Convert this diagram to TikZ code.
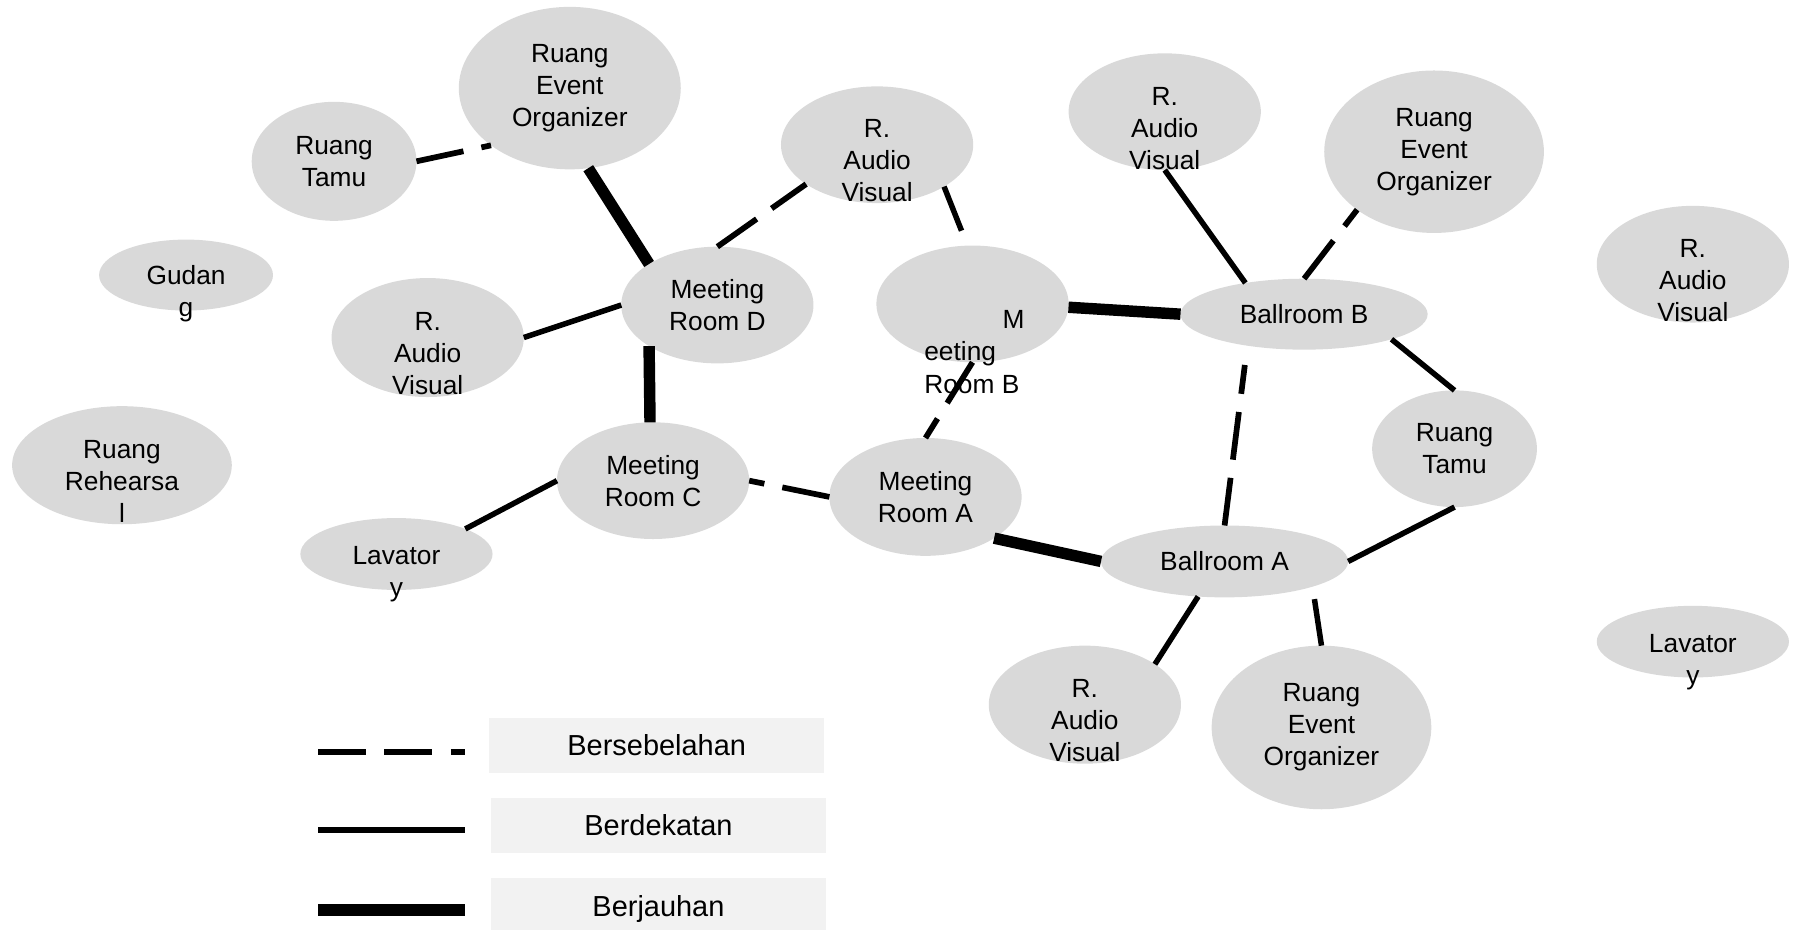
\documentclass[tikz,border=0pt]{standalone}
\usepackage{fontspec}
\setmainfont{Liberation Sans}
\usetikzlibrary{shapes.geometric,positioning}

\definecolor{roomgray}{RGB}{217,217,217}
\definecolor{keygray}{RGB}{242,242,242}

\tikzset{
  room/.style 2 args={ellipse, fill=roomgray, inner sep=0pt, outer sep=0pt,
    minimum width={2*#1pt}, minimum height={2*#2pt}},
  txt/.style={font=\fontsize{23}{28}\selectfont, align=center, inner sep=0pt},
  keybox/.style={fill=keygray, inner sep=0pt, minimum width=293pt, minimum height=48pt,
    text height=18.3pt, text depth=0pt, font=\fontsize{25.3}{30}\selectfont},
  adjline/.style={line width=5pt, dash pattern=on 42pt off 16pt},
  nearline/.style={line width=4.8pt},
  farline/.style={line width=10pt}
}

\begin{document}
\begin{tikzpicture}[x=1pt,y=-1pt]
\useasboundingbox (0,0) rectangle (1568,812);

% ruang-ruang
\node[room={97}{71}, label={[txt]center:{Ruang\\Event\\Organizer}}] (eo1) at (498,77) {};
\node[room={72}{52}, label={[txt]center:{Ruang\\Tamu}}] (t1) at (292,141) {};
\node[room={84}{51}, label={[txt,yshift=-14pt]center:{R.\\Audio\\Visual}}] (av1) at (766.6,126.5) {};
\node[room={76}{31}, label={[txt,yshift=-16pt]center:{Gudan\\g}}] (gud) at (162.6,240.4) {};
\node[room={84}{52}, label={[txt,yshift=-14pt]center:{R.\\Audio\\Visual}}] (av2) at (373.8,295) {};
\node[room={84}{51}, label={[txt]center:{Meeting\\Room D}}] (mrd) at (627,266.6) {};
\node[room={84}{51}] (mrb) at (850,265.6) {};
\node[txt, align=left, anchor=west] (mrbtext) at (807.7,307.7) {\hspace*{68.4pt}M\\eeting\\Room B};
\node[room={84}{51}, label={[txt]center:{Meeting\\Room C}}] (mrc) at (570.8,420.1) {};
\node[room={84}{51.5}, label={[txt]center:{Meeting\\Room A}}] (mra) at (808.9,434.3) {};
\node[room={84}{31.4}, label={[txt,yshift=-18pt]center:{Lavator\\y}}] (lav1) at (346.5,484.2) {};
\node[room={96}{51.6}, label={[txt,yshift=-14pt]center:{Ruang\\Rehearsa\\l}}] (reh) at (106.6,406.6) {};
\node[room={84}{51}, label={[txt,yshift=-15pt]center:{R.\\Audio\\Visual}}] (av3) at (1018,97.6) {};
\node[room={96}{71}, label={[txt]center:{Ruang\\Event\\Organizer}}] (eo2) at (1253.4,132.6) {};
\node[room={108}{31}, label={[txt]center:{Ballroom B}}] (bb) at (1139.8,274.6) {};
\node[room={84}{51}, label={[txt,yshift=-14pt]center:{R.\\Audio\\Visual}}] (av4) at (1479.6,230.9) {};
\node[room={72}{51}, label={[txt]center:{Ruang\\Tamu}}] (t2) at (1271.3,392.2) {};
\node[room={108}{31.4}, label={[txt]center:{Ballroom A}}] (ba) at (1070.3,490.7) {};
\node[room={84}{31.3}, label={[txt,yshift=-18pt]center:{Lavator\\y}}] (lav2) at (1479.6,560.8) {};
\node[room={84}{51.6}, label={[txt,yshift=-14pt]center:{R.\\Audio\\Visual}}] (av5) at (948.2,615.9) {};
\node[room={96}{71.5}, label={[txt]center:{Ruang\\Event\\Organizer}}] (eo3) at (1155,635.8) {};

% bersebelahan
\draw[adjline] (t1.east) -- (eo1.216);
\draw[adjline] (mrd.90) -- (av1.209);
\draw[adjline] (mrb.south) -- (mra.north);
\draw[adjline] (mra.west) -- (mrc.east);
\draw[adjline] (bb.north) -- (eo2.217);
\draw[adjline, shorten >=17pt] (ba.north) -- (bb.209);
% berdekatan
\draw[nearline] (av2.east) -- (mrd.west);
\draw[nearline, shorten >=14pt] (av1.328) -- (mrb.95);
\draw[nearline] (mrc.west) -- (lav1.20);
\draw[nearline] (bb.152) -- (av3.south);
\draw[nearline] (bb.344) -- (t2.north);
\draw[nearline] (ba.east) -- (t2.south);
\draw[nearline] (ba.233) -- (av5.30);
\draw[nearline, shorten <=11pt] (ba.344) -- (eo3.north);
% berjauhan
\draw[farline] (eo1.283) -- (mrd.149);
\draw[farline] (mrd.211) -- (mrc.93);
\draw[farline] (mrb.358) -- (bb.west);
\draw[farline] (mra.329) -- (ba.west);

% keterangan
\node[keybox] (key1) at (574,651.5) {Bersebelahan};
\node[keybox] (key2) at (575.5,721.5) {Berdekatan};
\node[keybox] (key3) at (575.5,791.7) {Berjauhan};
\coordinate (k1s) at (278,657.4); \coordinate (k1e) at (406.4,657.4);
\coordinate (k2s) at (278,725.6); \coordinate (k2e) at (406.4,725.6);
\coordinate (k3s) at (278,795.2); \coordinate (k3e) at (406.4,795.2);
\draw[adjline] (k1s) -- (k1e);
\draw[nearline] (k2s) -- (k2e);
\draw[farline] (k3s) -- (k3e);
\end{tikzpicture}
\end{document}
